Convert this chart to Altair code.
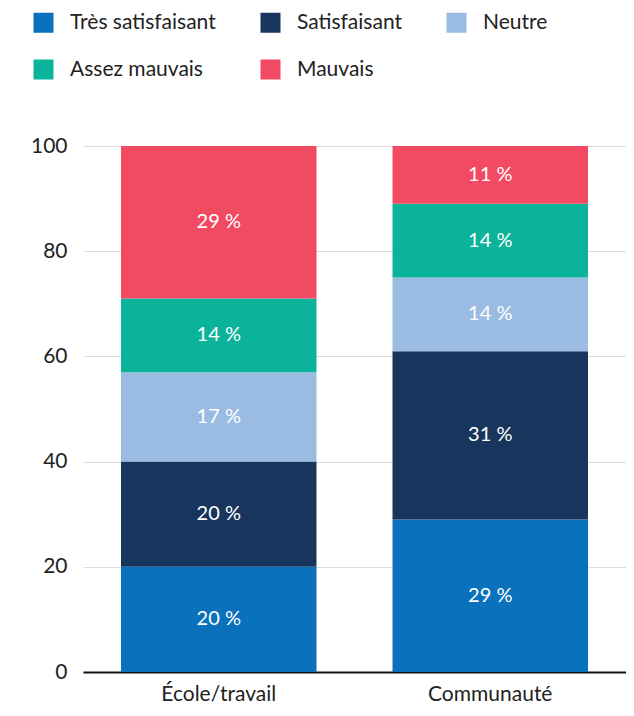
import altair as alt
import pandas as pd

categories = ["École/travail", "Communauté"]
levels = ["Très satisfaisant", "Satisfaisant", "Neutre", "Assez mauvais", "Mauvais"]
colors = ["#0A72BC", "#18365D", "#9ABBE2", "#0AB39A", "#F24A63"]

ecole_values = [20, 20, 17, 14, 29]
communaute_values = [29, 32, 14, 14, 11]
ecole_labels = ["20 %", "20 %", "17 %", "14 %", "29 %"]
communaute_labels = ["29 %", "31 %", "14 %", "14 %", "11 %"]

rows = []
for cat, vals, labs in [(categories[0], ecole_values, ecole_labels),
                        (categories[1], communaute_values, communaute_labels)]:
    for i, (lev, v, lab) in enumerate(zip(levels, vals, labs)):
        rows.append({"cat": cat, "level": lev, "value": v, "label": lab, "ord": i})
df = pd.DataFrame(rows)

FONT = "Lato"

base = alt.Chart(df).transform_stack(
    stack="value", groupby=["cat"], as_=["y0", "y1"],
    sort=[alt.SortField("ord", order="ascending")]
).transform_calculate(mid="(datum.y0 + datum.y1) / 2")

xenc = alt.X("cat:N", sort=categories, title=None,
             scale=alt.Scale(paddingInner=0.28, paddingOuter=0.14),
             axis=alt.Axis(labelAngle=0, ticks=False, grid=False, domain=True,
                           domainColor="#111111", domainWidth=2,
                           labelFontSize=21, labelColor="#222222",
                           labelFont=FONT, labelPadding=11))

bars = base.mark_bar().encode(
    x=xenc,
    y=alt.Y("y0:Q", title=None,
            scale=alt.Scale(domain=[0, 100], nice=False),
            axis=alt.Axis(values=[0, 20, 40, 60, 80, 100], domain=False, ticks=False,
                          grid=True, gridColor="#dddddd", gridWidth=1,
                          labelFontSize=21, labelColor="#222222", labelFont=FONT,
                          labelPadding=16)),
    y2="y1:Q",
    color=alt.Color("level:N", scale=alt.Scale(domain=levels, range=colors),
                    legend=alt.Legend(title=None, orient="none", legendX=-50, legendY=-134,
                                      direction="horizontal", columns=3,
                                      symbolType="square", symbolSize=400,
                                      symbolStrokeWidth=0, symbolOpacity=1,
                                      labelFontSize=21, labelFont=FONT,
                                      labelColor="#222222", labelOffset=16,
                                      columnPadding=44, rowPadding=25,
                                      labelLimit=300)),
)

texts = base.mark_text(color="white", fontSize=20, font=FONT, baseline="middle").encode(
    x=alt.X("cat:N", sort=categories),
    y=alt.Y("mid:Q"),
    text="label:N",
)

chart = alt.layer(bars, texts).properties(
    width=543, height=526,
    autosize=alt.AutoSizeParams(type="none"),
    padding={"left": 75, "top": 138, "right": 0, "bottom": 36},
).configure_view(stroke=None)

chart.save("out.html", embed_options={"renderer": "svg", "actions": False})
